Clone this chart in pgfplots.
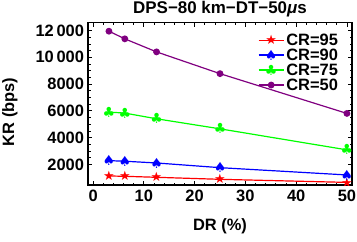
\documentclass[border=0pt]{standalone}
\usepackage{fontspec}
\setmainfont{Liberation Sans}
\newfontfamily\sym{DejaVu Sans}
\usepackage{pgfplots}
\pgfplotsset{compat=1.18}
\definecolor{mpurple}{rgb}{0.5,0,0.5}
\begin{document}
\begin{tikzpicture}
\begin{axis}[
  name=ax,
  scale only axis, width=264bp, height=162.5bp,
  xmin=-1, xmax=51, ymin=465, ymax=12600,
  scaled y ticks=false,
  xtick={0,10,20,30,40,50}, xticklabels={0,10,20,30,40,50},
  ytick={2000,4000,6000,8000,10000,12000},
  yticklabels={2000,4000,6000,8000,{10\,000},{12\,000}},
  minor x tick num=4, minor y tick num=3,
  tick align=inside,
  major tick length=4bp, minor tick length=2.5bp,
  every tick/.style={black, line width=0.8bp},
  axis line style={line width=1.5bp},
  ticklabel style={font=\fontsize{16.5}{18}\selectfont\bfseries},
  xticklabel style={yshift=-1bp},
  yticklabel style={xshift=-0.5bp},
  label style={font=\fontsize{16.5}{18}\selectfont\bfseries},
  title={DPS\textminus80 km\textminus DT\textminus50\textit{μ}s},
  title style={at={(axis description cs:0.5,1.08)}, anchor=center, yshift=-6pt, font=\fontsize{17}{18}\selectfont\bfseries},
  xlabel={DR (\%)},
  xlabel style={at={(axis description cs:0.5,-0.2566)}, anchor=center},
  ylabel={KR (bps)},
  ylabel style={at={(axis description cs:-0.2955,0.45)}, anchor=center},
  legend style={draw=none, fill=none, at={(axis description cs:0.955,0.945)}, anchor=north east,
    font=\fontsize{16.5}{17}\selectfont\bfseries, inner sep=0pt, row sep=-2bp,
    nodes={inner sep=2bp}},
  legend cell align=left,
  legend image code/.code={\draw[mark repeat=2,mark phase=2] plot coordinates {(0bp,0bp) (12.5bp,0bp) (25bp,0bp)};},
  clip mode=individual,
  clip marker paths=true,
]
\addplot[red, line width=1.2bp, mark=text, text mark={\sym\fontsize{13}{13}\selectfont\textcolor{red}{★}}]
  coordinates {(3.125,1140) (6.25,1115) (12.5,1040) (25,890) (50,660)};
\addlegendentry{CR=95}
\addplot[blue, line width=1.2bp, mark=text, text mark={\sym\fontsize{14}{14}\selectfont\textcolor{blue}{♠}}]
  coordinates {(3.125,2285) (6.25,2240) (12.5,2110) (25,1760) (50,1215)};
\addlegendentry{CR=90}
\addplot[green, line width=1.2bp, mark=text, text mark={\sym\fontsize{14}{14}\selectfont\textcolor{green}{♣}}]
  coordinates {(3.125,5910) (6.25,5835) (12.5,5410) (25,4660) (50,3090)};
\addlegendentry{CR=75}
\addplot[mpurple, line width=1.2bp, mark=*, mark size=2.8bp, mark options={fill=mpurple, draw=mpurple}]
  coordinates {(3.125,11950) (6.25,11380) (12.5,10405) (25,8780) (50,5810)};
\addlegendentry{CR=50}
\end{axis}
\pgfresetboundingbox
\path ([shift={(-88bp,-56bp)}]ax.south west) rectangle ([shift={(5bp,22.5bp)}]ax.north east);
\end{tikzpicture}
\end{document}
